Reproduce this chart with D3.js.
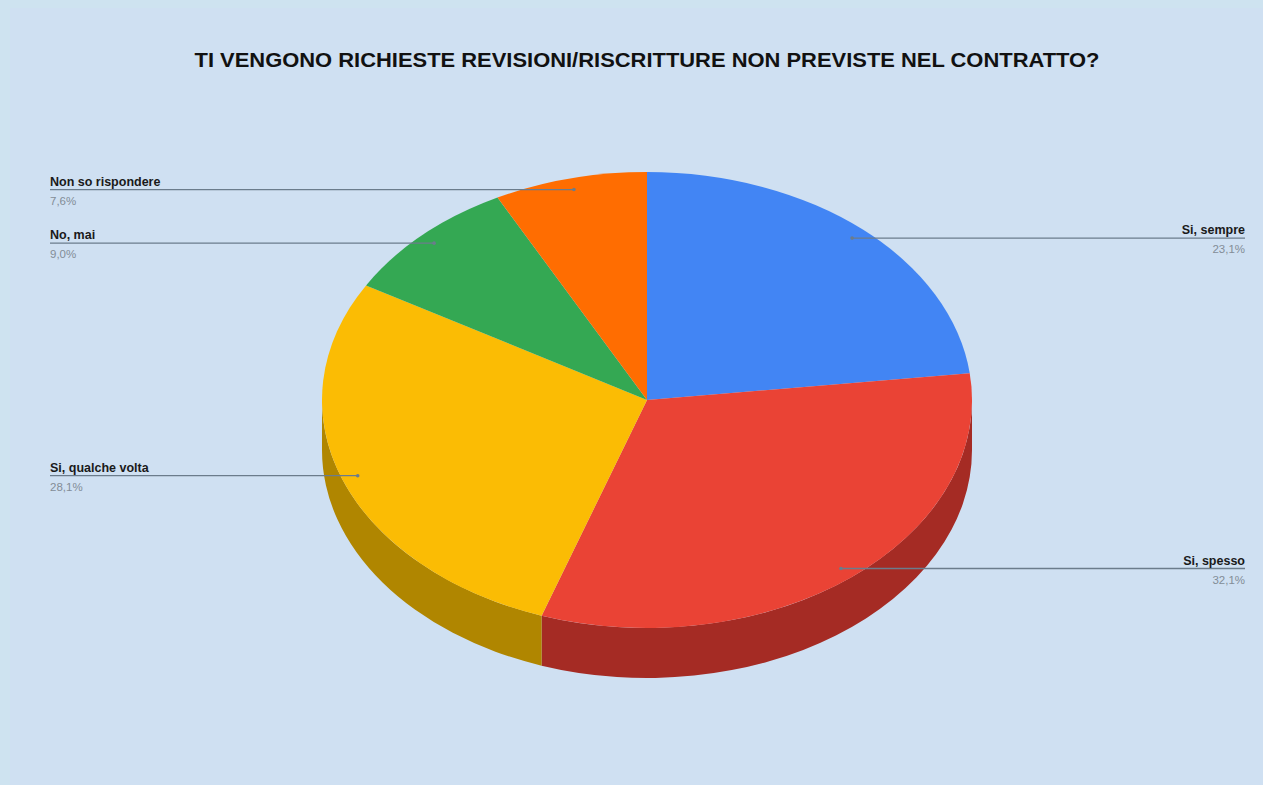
<!DOCTYPE html>
<html>
<head>
<meta charset="utf-8">
<script src="https://cdn.jsdelivr.net/npm/d3@7/dist/d3.min.js"></script>
<style>
  html, body { margin: 0; padding: 0; background: #cee3f0; }
  svg { display: block; }
</style>
</head>
<body>
<svg id="chart" width="1263" height="785"></svg>
<script>
// Survey answers and their shares (%)
const categories = ["Si, sempre", "Si, spesso", "Si, qualche volta", "No, mai", "Non so rispondere"];
const values = [23.1, 32.1, 28.1, 9.0, 7.6];
const valueLabels = ["23,1%", "32,1%", "28,1%", "9,0%", "7,6%"];
const topColors = ["#4285f4", "#ea4335", "#fbbc04", "#34a853", "#ff6d01"];
const sideColors = ["#2f5fae", "#a52b24", "#b08600", "#257840", "#b54d01"];
const labelSide = ["right", "right", "left", "left", "left"];
const title = "TI VENGONO RICHIESTE REVISIONI/RISCRITTURE NON PREVISTE NEL CONTRATTO?";

const W = 1263, H = 785;
const svg = d3.select("#chart");

// background panel
svg.append("rect").attr("width", W).attr("height", H).attr("fill", "#cee3f0");
svg.append("rect").attr("x", 10).attr("y", 8).attr("width", W - 10).attr("height", H - 8).attr("fill", "#cfe0f2");

// title
svg.append("text")
  .attr("x", 647).attr("y", 67)
  .attr("text-anchor", "middle")
  .attr("font-family", "Liberation Sans, Arial, sans-serif")
  .attr("font-weight", "bold")
  .attr("font-size", 21)
  .attr("fill", "#111")
  .attr("textLength", 905)
  .attr("lengthAdjust", "spacingAndGlyphs")
  .text(title);

// 3D pie geometry (ellipse projection)
const cx = 647, cy = 400, rx = 325, ry = 228, depth = 50;
const pt = (a, dy = 0, k = 1) => [cx + k * rx * Math.sin(a), cy - k * ry * Math.cos(a) + dy];

const pie = d3.pie().sort(null).startAngle(0).endAngle(2 * Math.PI);
const arcs = pie(values).map((d, i) => Object.assign(d, { i }));

// side walls (only the front half, angles π/2..3π/2, is visible)
const sideG = svg.append("g");
arcs.forEach(d => {
  const s = Math.max(d.startAngle, Math.PI / 2);
  const e = Math.min(d.endAngle, 3 * Math.PI / 2);
  if (s >= e) return;
  const p0 = pt(s), p1 = pt(e), q1 = pt(e, depth), q0 = pt(s, depth);
  const path = `M${p0}A${rx},${ry} 0 0 1 ${p1}L${q1}A${rx},${ry} 0 0 0 ${q0}Z`;
  sideG.append("path").attr("d", path).attr("fill", sideColors[d.i]);
});

// top faces
const topG = svg.append("g");
arcs.forEach(d => {
  const p0 = pt(d.startAngle), p1 = pt(d.endAngle);
  const large = d.endAngle - d.startAngle > Math.PI ? 1 : 0;
  const path = `M${cx},${cy}L${p0}A${rx},${ry} 0 ${large} 1 ${p1}Z`;
  topG.append("path").attr("d", path).attr("fill", topColors[d.i]);
});

// leader lines and labels
const labG = svg.append("g").attr("font-family", "Liberation Sans, Arial, sans-serif");
arcs.forEach(d => {
  const mid = (d.startAngle + d.endAngle) / 2;
  const [ax, ay] = pt(mid, 0, 0.95);
  const right = labelSide[d.i] === "right";
  const ex = right ? 1245 : 50;
  labG.append("line")
    .attr("x1", ax).attr("y1", ay).attr("x2", ex).attr("y2", ay)
    .attr("stroke", "#6b7c8c").attr("stroke-width", 1.3);
  labG.append("circle").attr("cx", ax).attr("cy", ay).attr("r", 1.8).attr("fill", "#6b7c8c");
  labG.append("text")
    .attr("x", ex).attr("y", ay - 4)
    .attr("text-anchor", right ? "end" : "start")
    .attr("font-weight", "bold").attr("font-size", 12.5)
    .attr("fill", "#1a1a1a")
    .text(categories[d.i]);
  labG.append("text")
    .attr("x", ex).attr("y", ay + 15)
    .attr("text-anchor", right ? "end" : "start")
    .attr("font-size", 11.5)
    .attr("fill", "#838d97")
    .text(valueLabels[d.i]);
});
</script>
</body>
</html>
